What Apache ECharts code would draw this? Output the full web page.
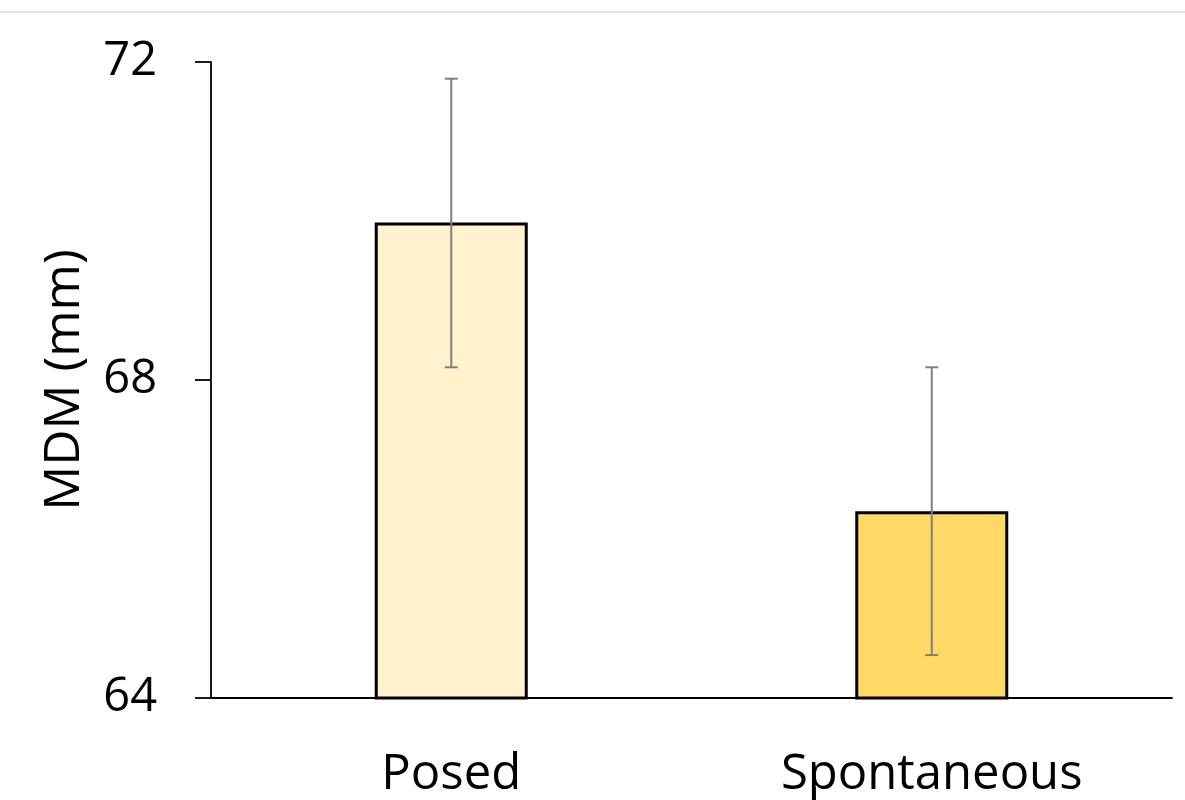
<!DOCTYPE html>
<html>
<head>
<meta charset="utf-8">
<script src="https://cdn.jsdelivr.net/npm/echarts@6/dist/echarts.min.js"></script>
<style>
html,body{margin:0;padding:0;background:#fff;}
#chart{width:1185px;height:800px;}
</style>
</head>
<body>
<div id="chart"></div>
<script>
const categories = ['Posed', 'Spontaneous'];
const means = [69.98, 66.35];
const errLow = [68.16, 64.54];
const errHigh = [71.79, 68.16];
const barColors = ['#FFF2CC', '#FFD966'];
const yTicks = [64, 68, 72];

const chart = echarts.init(document.getElementById('chart'));
const fontFam = '"Open Sans", "Noto Sans", sans-serif';

chart.setOption({
  animation: false,
  backgroundColor: '#fff',
  graphic: [{
    type: 'line',
    shape: {x1: 0, y1: 12, x2: 1185, y2: 12},
    style: {stroke: '#dddddd', lineWidth: 1.5}
  }],
  grid: {left: 211, right: 13, top: 62, bottom: 101},
  xAxis: {
    type: 'category',
    data: categories,
    axisLine: {show: true, onZero: false, lineStyle: {color: '#000', width: 1.8}},
    axisTick: {show: false},
    axisLabel: {color: '#000', fontSize: 49, fontFamily: fontFam, margin: 53}
  },
  yAxis: {
    type: 'value',
    min: yTicks[0],
    max: yTicks[yTicks.length - 1],
    interval: 4,
    name: 'MDM (mm)',
    nameLocation: 'middle',
    nameGap: 121,
    nameRotate: 90,
    nameTextStyle: {color: '#000', fontSize: 50, fontFamily: fontFam},
    axisLine: {show: true, lineStyle: {color: '#000', width: 1.8}},
    axisTick: {show: true, inside: false, length: 16, lineStyle: {color: '#000', width: 1.8}},
    splitLine: {show: false},
    axisLabel: {color: '#000', fontSize: 47, fontFamily: fontFam, margin: 54}
  },
  series: [
    {
      type: 'bar',
      barWidth: 153,
      data: means.map((v, i) => ({
        value: v,
        itemStyle: {color: barColors[i], borderColor: '#000', borderWidth: 3}
      }))
    },
    {
      type: 'custom',
      data: categories.map((c, i) => [i, errLow[i], errHigh[i]]),
      z: 10,
      renderItem: function (params, api) {
        const x = api.value(0);
        const lo = api.coord([x, api.value(1)]);
        const hi = api.coord([x, api.value(2)]);
        const hw = 6.5;
        const style = {stroke: '#7f7f7f', lineWidth: 2, fill: null};
        return {
          type: 'group',
          children: [
            {type: 'line', shape: {x1: lo[0], y1: lo[1], x2: hi[0], y2: hi[1]}, style: style},
            {type: 'line', shape: {x1: hi[0] - hw, y1: hi[1], x2: hi[0] + hw, y2: hi[1]}, style: style},
            {type: 'line', shape: {x1: lo[0] - hw, y1: lo[1], x2: lo[0] + hw, y2: lo[1]}, style: style}
          ]
        };
      }
    }
  ]
});
</script>
</body>
</html>
